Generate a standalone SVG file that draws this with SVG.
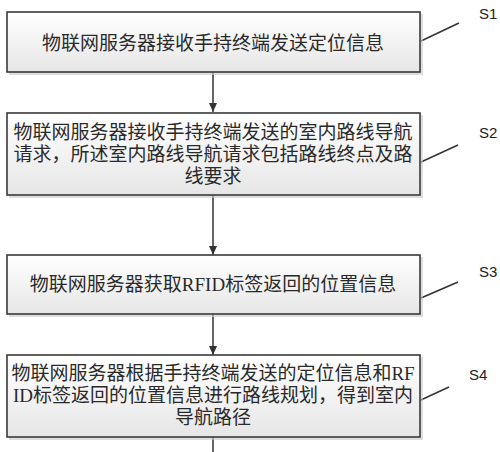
<svg xmlns="http://www.w3.org/2000/svg" width="500" height="452" viewBox="0 0 500 452">
<defs>
<linearGradient id="fillg" x1="0" y1="0" x2="0" y2="1">
<stop offset="0" stop-color="#ffffff"/>
<stop offset="1" stop-color="#e6e6e6"/>
</linearGradient>
<marker id="arr" markerWidth="10" markerHeight="10" refX="9" refY="5" orient="auto" markerUnits="userSpaceOnUse">
<path d="M0,1 L9,5 L0,9 Z" fill="#333"/>
</marker>
</defs>
<style>
.box{fill:url(#fillg);stroke:#3a3a3a;stroke-width:1.6}
.shadow{fill:#c8c8c8;opacity:0.6}
.t{font-family:"Liberation Serif","Noto Sans CJK SC",serif;font-size:19px;fill:#2a2a2a;text-anchor:middle}
.lbl{font-family:"Liberation Sans","Noto Sans",sans-serif;font-size:15px;fill:#222}
.edge{stroke:#333;stroke-width:1.5;fill:none}
.lead{stroke:#333;stroke-width:1.5;fill:none}
</style>
<rect width="500" height="452" fill="#ffffff"/>
<g id="connectors">
<line class="edge" x1="213" y1="72" x2="213" y2="112" marker-end="url(#arr)"/>
<line class="edge" x1="213" y1="195" x2="213" y2="255" marker-end="url(#arr)"/>
<line class="edge" x1="213" y1="314" x2="213" y2="355" marker-end="url(#arr)"/>
<line class="edge" x1="213" y1="437" x2="213" y2="452"/>
<line class="lead" x1="421" y1="41" x2="459" y2="23"/>
<line class="lead" x1="421" y1="162" x2="458" y2="145"/>
<line class="lead" x1="421" y1="298" x2="458" y2="282"/>
<line class="lead" x1="410" y1="405" x2="449" y2="387"/>
</g>
<g id="s1">
<rect class="shadow" x="9" y="14" width="414" height="61"/>
<rect class="box" x="7" y="12" width="413" height="60"/>
<text class="t" x="213" y="50">物联网服务器接收手持终端发送定位信息</text>
<text class="lbl" x="479" y="19">S1</text>
</g>
<g id="s2">
<rect class="shadow" x="9" y="115" width="414" height="83"/>
<rect class="box" x="7" y="113" width="413" height="82"/>
<text class="t" x="213" y="139">物联网服务器接收手持终端发送的室内路线导航</text>
<text class="t" x="213" y="161">请求，所述室内路线导航请求包括路线终点及路</text>
<text class="t" x="213" y="183">线要求</text>
<text class="lbl" x="479" y="138">S2</text>
</g>
<g id="s3">
<rect class="shadow" x="9" y="257" width="414" height="60"/>
<rect class="box" x="7" y="255" width="413" height="59"/>
<text class="t" x="213" y="291">物联网服务器获取RFID标签返回的位置信息</text>
<text class="lbl" x="479" y="277">S3</text>
</g>
<g id="s4">
<rect class="shadow" x="9" y="357" width="414" height="83"/>
<rect class="box" x="7" y="355" width="413" height="82"/>
<text class="t" x="213" y="380">物联网服务器根据手持终端发送的定位信息和RF</text>
<text class="t" x="213" y="402">ID标签返回的位置信息进行路线规划，得到室内</text>
<text class="t" x="213" y="424">导航路径</text>
<text class="lbl" x="469" y="380">S4</text>
</g>
</svg>
